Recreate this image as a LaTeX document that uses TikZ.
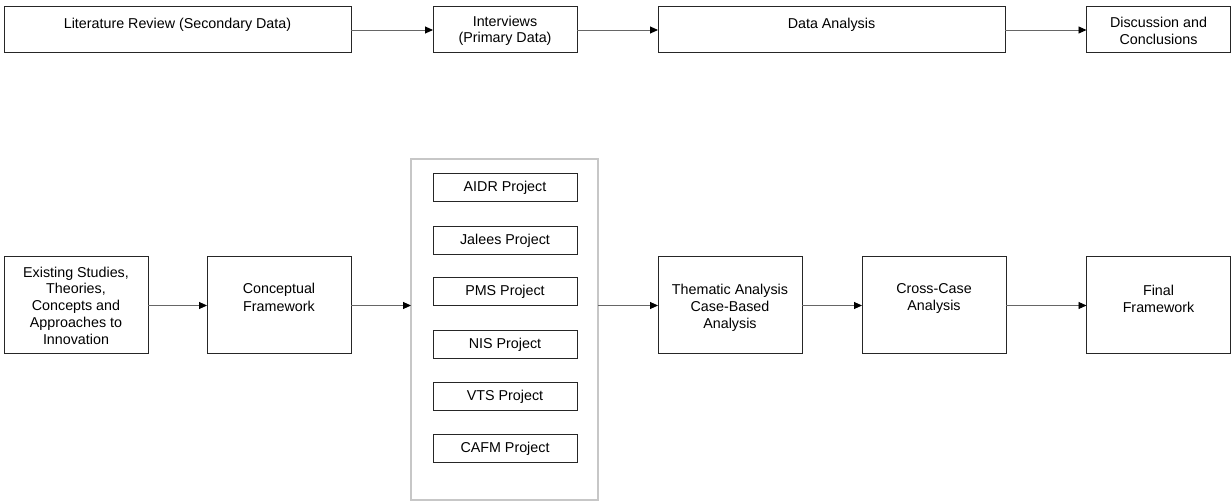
\documentclass[tikz,border=0pt]{standalone}
\usepackage{fontspec}
\setmainfont{Liberation Sans}
\usetikzlibrary{arrows.meta}

\tikzset{
  box/.style={draw=black!85, line width=1pt, fill=white, inner sep=0pt, outer sep=0pt},
  wide/.style={box, minimum width=347pt, minimum height=46pt},
  narrow/.style={box, minimum width=144pt, minimum height=46pt},
  stage/.style={box, minimum width=144pt, minimum height=97pt},
  project/.style={box, minimum width=144pt, minimum height=28pt,
    font=\fontsize{14.3}{17}\selectfont},
  holder/.style={draw=black!22, line width=1.5pt, inner sep=0pt, outer sep=0pt,
    minimum width=187pt, minimum height=341pt},
  txt/.style={inner sep=0pt, align=center, font=\fontsize{14.3}{16.5}\selectfont},
  flow/.style={draw=black!60, line width=0.9pt,
    -{Triangle[length=8pt,width=7pt,fill=black,color=black]}}
}

\begin{document}
\begin{tikzpicture}[x=1pt, y=-1pt]
  \useasboundingbox (0,0) rectangle (1231,502);

  % research stages (top row)
  \node[wide]   (lit)  at (177.5,30) {};
  \node[narrow] (int)  at (505,30)   {};
  \node[wide]   (ana)  at (831.5,30) {};
  \node[narrow] (disc) at (1158.5,30) {};
  \node[txt] (litT)  at (177.5,24.5) {Literature Review (Secondary Data)};
  \node[txt] (intT)  at (505,31)     {Interviews\\(Primary Data)};
  \node[txt] (anaT)  at (831.5,24.5) {Data Analysis};
  \node[txt] (discT) at (1158.5,31)  {Discussion and\\Conclusions};

  \draw[flow] (lit.east) -- (int.west);
  \draw[flow] (int.east) -- (ana.west);
  \draw[flow] (ana.east) -- (disc.west);

  % analytical path (bottom row)
  \node[stage] (exist) at (76,305.5)   {};
  \node[stage] (conc)  at (279,305.5)  {};
  \node[holder] (cases) at (504.5,329.5) {};
  \node[stage] (them)  at (730,305.5)  {};
  \node[stage] (cross) at (934,305.5)  {};
  \node[stage] (final) at (1158.5,305.5) {};

  \node[txt, font=\fontsize{14.3}{16.8}\selectfont] (existT) at (76,305.5)
    {Existing Studies,\\Theories,\\Concepts and\\Approaches to\\Innovation};
  \node[txt, font=\fontsize{14.3}{17.5}\selectfont] (concT) at (279,297.5) {Conceptual\\Framework};
  \node[txt, font=\fontsize{14.3}{17}\selectfont] (themT) at (730,307.5)
    {Thematic Analysis\\Case-Based\\Analysis};
  \node[txt, font=\fontsize{14.3}{17}\selectfont] (crossT) at (934,298) {Cross-Case\\Analysis};
  \node[txt, font=\fontsize{14.3}{17}\selectfont] (finalT) at (1158.5,298.5) {Final\\Framework};

  % case projects
  \node[project] (p1) at (505,187.5) {AIDR Project};
  \node[project] (p2) at (505,240.5) {Jalees Project};
  \node[project] (p3) at (505,292)   {PMS Project};
  \node[project] (p4) at (505,344.5) {NIS Project};
  \node[project] (p5) at (505,396.5) {VTS Project};
  \node[project] (p6) at (505,448.5) {CAFM Project};

  \draw[flow] (exist.east) -- (conc.west);
  \draw[flow] (conc.east) -- (conc.east -| cases.west);
  \draw[flow] (them.west -| cases.east) -- (them.west);
  \draw[flow] (them.east) -- (cross.west);
  \draw[flow] (cross.east) -- (final.west);
\end{tikzpicture}
\end{document}
